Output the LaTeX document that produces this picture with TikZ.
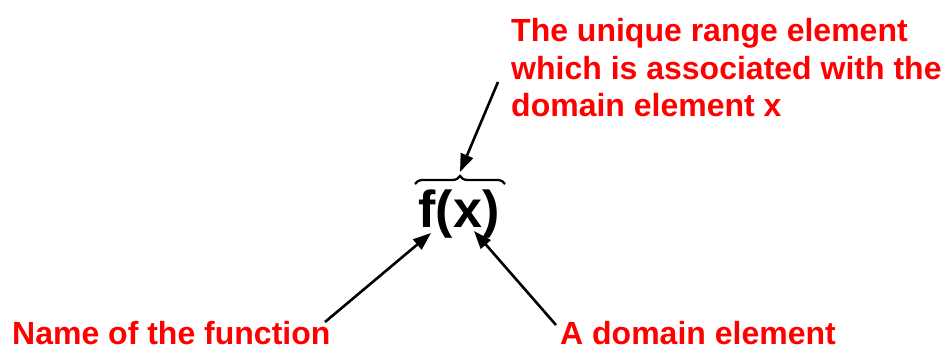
\documentclass[tikz,border=0pt]{standalone}
\usepackage{fontspec}
\setmainfont{Liberation Sans}
\usetikzlibrary{decorations.pathreplacing,arrows.meta}
\definecolor{lblred}{RGB}{255,0,0}
\tikzset{
  lbl/.style={text=lblred, font=\bfseries\fontsize{32}{37.5}\selectfont, inner sep=0pt, align=left},
  ptr/.style={draw=black, line width=2.6pt, -{Triangle[length=18pt,width=13pt]}},
}
\begin{document}
\begin{tikzpicture}[x=1pt,y=-1pt]
\useasboundingbox (0,0) rectangle (952,350);
\node[lbl, anchor=base west] (top) at (511,117) {The unique range element\\which is associated with the\\domain element x};
\node[lbl, anchor=base west] (name) at (12,344) {Name of the function};
\node[lbl, anchor=base west] (dom) at (560,344) {A domain element};
\node[font=\bfseries\fontsize{52}{60}\selectfont, inner sep=0pt] (fx) at (459,214) {f(x)};
\draw[line width=2.2pt, decorate, decoration={brace, amplitude=8pt}] (415,184) -- (505,184);
\coordinate (tip) at (460,172);
\coordinate (fbase) at (431,233);
\coordinate (xbase) at (474,231);
\coordinate (s1) at (498,82);
\coordinate (s2) at (325,322);
\coordinate (s3) at (556,325);
\draw[ptr] (s1) -- (tip);
\draw[ptr] (s2) -- (fbase);
\draw[ptr] (s3) -- (xbase);
\end{tikzpicture}
\end{document}
